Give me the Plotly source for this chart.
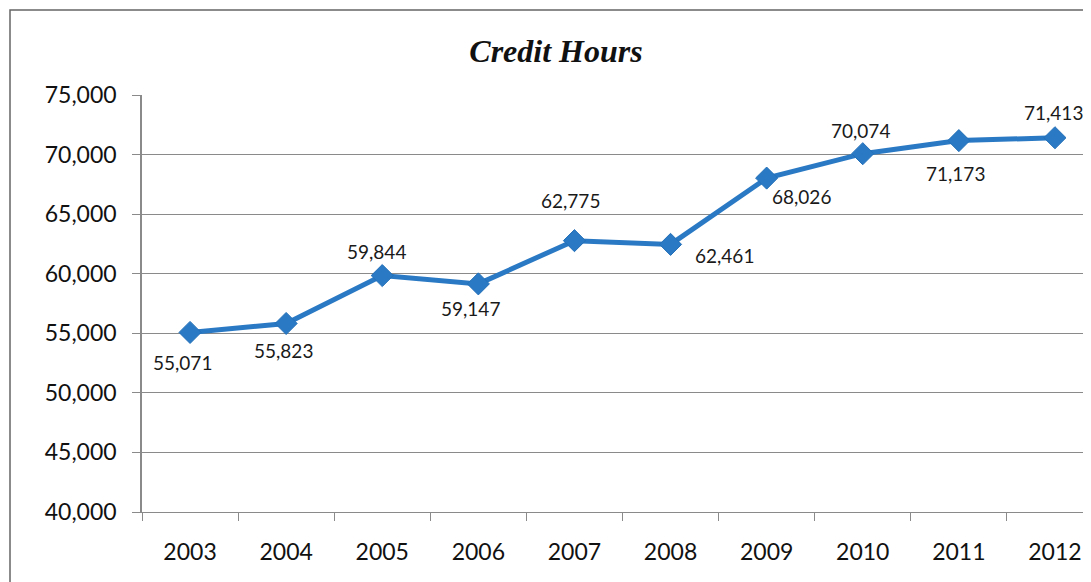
import plotly.graph_objects as go

years = ["2003", "2004", "2005", "2006", "2007", "2008", "2009", "2010", "2011", "2012"]
credit_hours = [55071, 55823, 59844, 59147, 62775, 62461, 68026, 70074, 71173, 71413]
y_ticks = [40000, 45000, 50000, 55000, 60000, 65000, 70000, 75000]

# label offsets (pixels) relative to each point
label_dx = [-8, -3, -6, -8, -4, 54, 35, -2, -3, -1]
label_dy = [30, 27, -24, 25, -40, 11, 18, -23, 33, -25]

LINE_COLOR = "#2a79c4"
GRID = "#8a8a8a"
FONT = "Lato, 'Open Sans', sans-serif"

OFF = 8  # page body margin
W, H = 1091 - OFF, 582 - OFF
L, T = 142 - OFF, 95 - OFF
B = H - (512 - OFF)

fig = go.Figure()
fig.add_trace(go.Scatter(
    x=years, y=credit_hours, mode="lines+markers",
    line=dict(color=LINE_COLOR, width=5),
    marker=dict(symbol="diamond", size=17, color=LINE_COLOR,
                line=dict(color="#2470b8", width=1)),
    hoverinfo="x+y", showlegend=False,
))

for i, (y, dx, dy) in enumerate(zip(credit_hours, label_dx, label_dy)):
    fig.add_annotation(x=i, y=y, xref="x", yref="y", text=f"{y:,}", showarrow=False,
                       xshift=dx, yshift=-dy,
                       font=dict(family=FONT, size=19, color="#1a1a1a"))

step = 96.1
plot_w = W - L
x_max = plot_w / step - 0.5

fig.update_layout(
    width=W, height=H,
    margin=dict(l=L, r=0, t=T, b=B),
    paper_bgcolor="white", plot_bgcolor="white",
    title=dict(text="<b><i>Credit Hours</i></b>", x=(556 - OFF) / W, xanchor="center",
               y=1 - (51 - OFF) / H, yanchor="middle",
               font=dict(family="'Liberation Serif', 'Times New Roman', serif", size=32, color="#111111")),
    xaxis=dict(type="category", range=[-0.5, x_max], tickson="boundaries",
               ticks="outside", ticklen=8, tickcolor=GRID, tickwidth=1,
               showline=True, linecolor=GRID, linewidth=1, showgrid=False,
               tickfont=dict(family=FONT, size=23, color="#111111"),
               ticklabelstandoff=19),
    yaxis=dict(range=[40000, 75000], tickvals=y_ticks,
               ticktext=[f"{v:,}" for v in y_ticks],
               ticks="outside", ticklen=8, tickcolor=GRID, tickwidth=1,
               showline=True, linecolor=GRID, linewidth=1.5,
               showgrid=True, gridcolor=GRID, gridwidth=1, zeroline=False,
               tickfont=dict(family=FONT, size=23, color="#111111"),
               ticklabelstandoff=11),
)

fig.add_shape(type="rect", xref="paper", yref="paper",
              x0=(10 - 142) / plot_w, x1=1.2, y0=-0.5, y1=(512 - 10) / 417,
              line=dict(color="#666666", width=1.5), layer="below")

fig.write_html("out.html")
